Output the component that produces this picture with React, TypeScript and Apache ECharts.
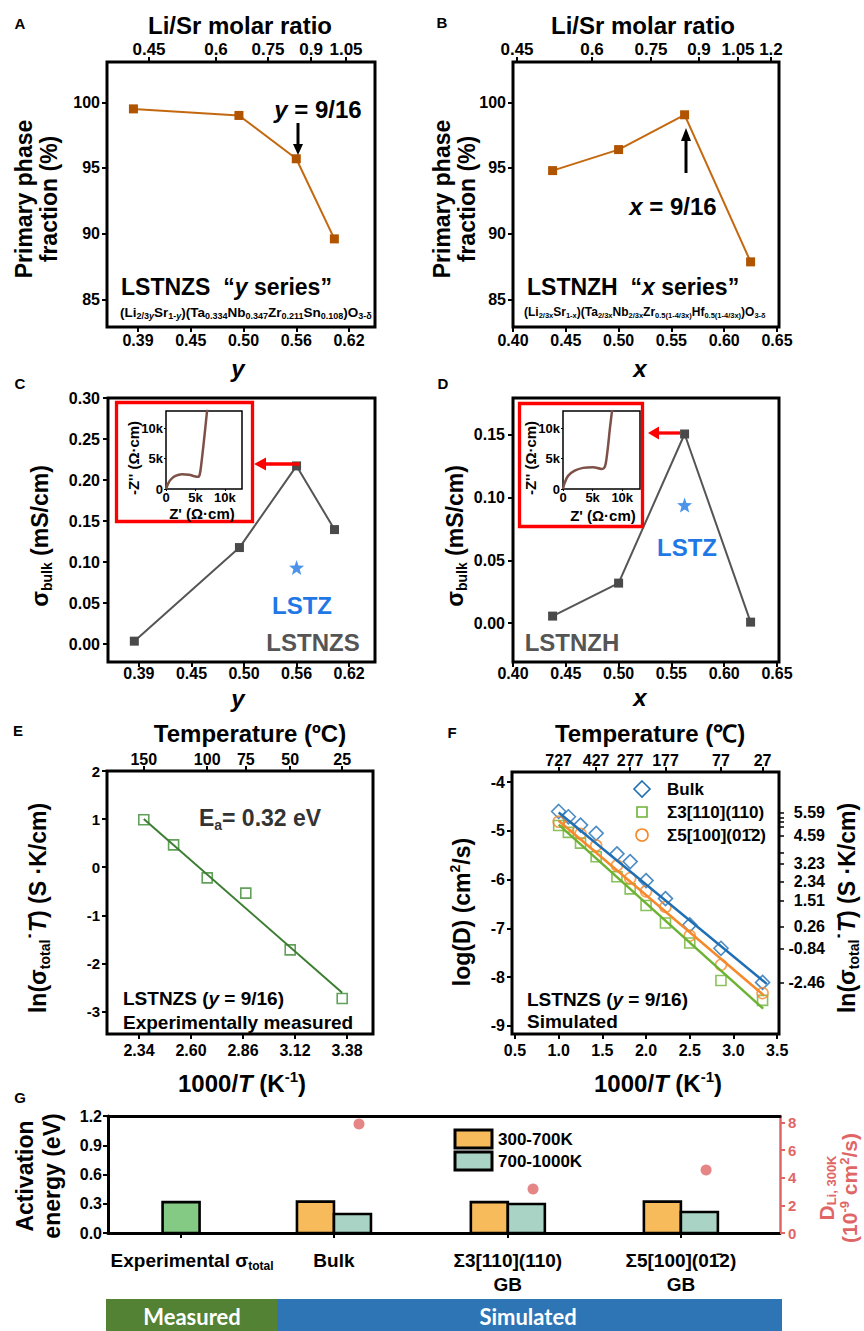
import React, { useEffect, useRef } from "react";
import * as echarts from "echarts";

const FONT = 'Arial, "Liberation Sans", Helvetica, sans-serif';

// ---------- Panel A : LSTNZS "y series" ----------
const aY = [0.385, 0.5, 0.5625, 0.604];
const aPhase = [99.5, 99.0, 95.7, 89.6];
const yAxisPos = [0.39, 0.4475, 0.505, 0.5625, 0.62];
const yAxisLabels = ["0.39", "0.45", "0.50", "0.56", "0.62"];
const aRatioPos = [0.402, 0.475, 0.5317, 0.5786, 0.6167];
const aRatioLabels = ["0.45", "0.6", "0.75", "0.9", "1.05"];
const phaseTicks = [85, 90, 95, 100];

// ---------- Panel B : LSTNZH "x series" ----------
const bX = [0.4375, 0.5, 0.5625, 0.625];
const bPhase = [94.8, 96.4, 99.05, 87.85];
const xSeriesTicks = [0.4, 0.45, 0.5, 0.55, 0.6, 0.65];
const bRatioPos = [0.4038, 0.4748, 0.5307, 0.5761, 0.6131, 0.6443];
const bRatioLabels = ["0.45", "0.6", "0.75", "0.9", "1.05", "1.2"];

// ---------- Panel C / D : bulk conductivity ----------
const cSigma = [0.0036, 0.1177, 0.2172, 0.1396];
const cLSTZ = [[0.5625, 0.0934]];
const cTicks = [0, 0.05, 0.1, 0.15, 0.2, 0.25, 0.3];
const dSigma = [0.0056, 0.0319, 0.1508, 0.0008];
const dLSTZ = [[0.5625, 0.0941]];
const dTicks = [0, 0.05, 0.1, 0.15];

// Nyquist insets: [Z', -Z''] in Ω·cm
const insetC = [[0, 0], [340, 850], [850, 1600], [1600, 2160], [2700, 2440], [3900, 2330], [5000, 2050], [5450, 2000], [5740, 2440], [6000, 4150], [6400, 7560], [7000, 13100]];
const insetD = [[0, 0], [280, 1000], [850, 2160], [1980, 3000], [3400, 3470], [5100, 3580], [6500, 3300], [6900, 3400], [7200, 4100], [7600, 7000], [7900, 9800], [8300, 13000]];
const insetTicks = [0, 5000, 10000];

// ---------- Panel E : measured Arrhenius ----------
const eInvT = [2.364, 2.513, 2.681, 2.874, 3.096, 3.356];
const eLnSigmaT = [0.985, 0.465, -0.223, -0.54, -1.72, -2.73];
const eFit = [[2.364, 1.0], [3.356, -2.61]];
const eXTicks = [2.34, 2.6, 2.86, 3.12, 3.38];
const eYTicks = [-3, -2, -1, 0, 1, 2];
const eTempPos = [2.364, 2.681, 2.874, 3.096, 3.356];
const eTempLabels = ["150", "100", "75", "50", "25"];

// ---------- Panel F : simulated diffusivity ----------
const fInvT = [1.0, 1.111, 1.25, 1.429, 1.667, 1.818, 2.0, 2.222, 2.5, 2.857, 3.333];
const fBulk = [-4.6, -4.71, -4.88, -5.05, -5.47, -5.63, -6.02, -6.39, -6.93, -7.41, -8.11];
const fS3 = [-4.89, -5.03, -5.25, -5.53, -5.94, -6.19, -6.53, -6.89, -7.3, -8.07, -8.48];
const fS5 = [-4.81, -4.91, -5.06, -5.3, -5.71, -5.97, -6.24, -6.56, -7.15, -7.75, -8.33];
const fFitBulk = [[1.0, -4.62], [3.38, -8.14]];
const fFitS3 = [[1.0, -4.87], [3.34, -8.65]];
const fFitS5 = [[1.0, -4.79], [3.35, -8.38]];
const fXTicks = [0.5, 1.0, 1.5, 2.0, 2.5, 3.0, 3.5];
const fYTicks = [-9, -8, -7, -6, -5, -4];
const fTempPos = [1.0, 1.429, 1.818, 2.222, 2.857, 3.333];
const fTempLabels = ["727", "427", "277", "177", "77", "27"];
const fRightPos = [-4.63, -5.1, -5.67, -6.04, -6.43, -6.97, -7.42, -8.12];
const fRightLabels = ["5.59", "4.59", "3.23", "2.34", "1.51", "0.26", "-0.84", "-2.46"];
const fRightExtraTicks = [-4.72, -4.82, -4.92, -5.45];
const fNames = ["Bulk", "Σ3[110](110)", "Σ5[100](01̄2)"];

// ---------- Panel G : activation energies ----------
const gCatPos = [0.435, 1.345, 2.38, 3.41];
const gCatLabels = ["{sp| }Experimental σ{sub|total}", "Bulk", "Σ3[110](110)\nGB", "Σ5[100](01̄2)\nGB"];
const gMeasured = [[0.435, 0.317]];
const gLowT = [[1.345, 0.322], [2.38, 0.317], [3.41, 0.322]];
const gHighT = [[1.345, 0.195], [2.38, 0.297], [3.41, 0.215]];
const gDiffPos = [1.494, 2.53, 3.56];
const gDiff = [7.9, 3.19, 4.57];
const gLeftTicks = [0, 0.3, 0.6, 0.9, 1.2];
const gRightTicks = [0, 2, 4, 6, 8];

// ---------- helpers ----------
const nearest = (pos: number[], labels: string[]) => (v: number) => {
  let bi = 0;
  let bd = Infinity;
  pos.forEach((p, i) => {
    const d = Math.abs(p - v);
    if (d < bd) { bd = d; bi = i; }
  });
  return labels[bi];
};
const fixed = (n: number) => (v: number) => Number(v).toFixed(n);
const pairs = (xs: number[], ys: number[]) => xs.map((x, i) => [x, ys[i]]);

function axis(kind: string, gridIndex: number, min: number, max: number, ticks: number[], fmt: any, o: any = {}) {
  return {
    type: "value",
    gridIndex,
    min,
    max,
    position: o.position || (kind === "x" ? "bottom" : "left"),
    axisLine: { show: !!o.line, onZero: false, lineStyle: { color: o.color || "#000", width: o.lineWidth || 3 } },
    axisTick: {
      show: o.tick !== false,
      inside: false,
      length: o.tickLen ?? 5,
      customValues: o.tickValues || ticks,
      lineStyle: { color: o.color || "#000", width: o.tickWidth ?? 2 },
    },
    axisLabel: {
      show: o.label !== false,
      customValues: ticks,
      formatter: fmt,
      margin: o.margin ?? 6,
      fontSize: o.fs ?? 16,
      fontWeight: "bold",
      fontFamily: FONT,
      color: o.color || "#000",
      align: o.align,
      lineHeight: o.lh,
      rich: o.rich,
    },
    splitLine: { show: false },
  };
}

function richFor(fs: number, color: string, lh: number, sfsIn?: number) {
  const base = { fontFamily: FONT, fontWeight: "bold", fill: color, color };
  const sfs = sfsIn || Math.round(fs * 0.62);
  return {
    i: { ...base, fontSize: fs, fontStyle: "italic", lineHeight: lh },
    sub: { ...base, fontSize: sfs, lineHeight: Math.round(fs * 0.5), verticalAlign: "bottom" },
    sup: { ...base, fontSize: sfs, lineHeight: Math.round(fs * 0.5), verticalAlign: "top" },
    si: { ...base, fontSize: sfs, fontStyle: "italic", lineHeight: Math.round(fs * 0.5), verticalAlign: "bottom" },
  };
}

function T(x: number, y: number, text: string, o: any = {}) {
  const fs = o.fs || 16;
  const color = o.color || "#000";
  const lh = o.lh || Math.round(fs * 1.2);
  return {
    type: "text",
    x,
    y,
    rotation: o.rot ? (o.rot * Math.PI) / 180 : 0,
    z: 100,
    style: {
      text,
      fontFamily: o.family || FONT,
      fontWeight: o.weight || "bold",
      fontStyle: o.italic ? "italic" : "normal",
      fontSize: fs,
      fill: color,
      align: o.align || "center",
      verticalAlign: "middle",
      lineHeight: lh,
      rich: richFor(fs, color, lh, o.sfs),
    },
  };
}

const grid = (left: number, top: number, width: number, height: number, border = 3) => ({
  left,
  top,
  width,
  height,
  show: border > 0,
  borderWidth: border,
  borderColor: "#000",
  backgroundColor: "transparent",
  containLabel: false,
  outerBoundsMode: "none",
});

const BROWN_PT = "#b05400";
const BROWN_LN = "#c4680f";
const GREY = "#4a4a4a";
const STAR = "path://M12,0L15,8.5L24,9L17,14.5L19.5,23.5L12,18.5L4.5,23.5L7,14.5L0,9L9,8.5Z";
const BLUE = "#1f6fb5";
const GREEN_F = "#6cb233";
const ORANGE_F = "#f5892b";
const GREEN_E = "#3b8a2f";
const RED_G = "#e06666";

function buildOption() {
  const graphics: any[] = [];
  const push = (e: any) => graphics.push(e);

  // panel letters
  ([["A", 20, 23], ["B", 442, 22], ["C", 20, 383], ["D", 443, 383], ["E", 18, 730], ["F", 452, 732], ["G", 20, 1097]] as any[]).forEach(
    ([t, x, y]) => push(T(x, y, t, { fs: 15 }))
  );
  // titles
  push(T(240, 25, "Li/Sr molar ratio", { fs: 24 }));
  push(T(643, 25, "Li/Sr molar ratio", { fs: 24 }));
  push(T(250, 733, "Temperature (ºC)", { fs: 24 }));
  push(T(650, 733, "Temperature (℃)", { fs: 24 }));
  // x axis names
  push(T(238, 368, "y", { fs: 24, italic: true }));
  push(T(640, 368, "x", { fs: 24, italic: true }));
  push(T(238, 698, "y", { fs: 24, italic: true }));
  push(T(640, 697, "x", { fs: 24, italic: true }));
  push(T(242, 1083, "1000/{i|T} (K{sup|-1})", { fs: 24 }));
  push(T(658, 1083, "1000/{i|T} (K{sup|-1})", { fs: 24 }));
  // y axis names
  push(T(36, 199, "Primary phase\nfraction (%)", { fs: 23, rot: 90, lh: 25 }));
  push(T(454, 199, "Primary phase\nfraction (%)", { fs: 23, rot: 90, lh: 25 }));
  push(T(40, 536, "σ{sub|bulk} (mS/cm)", { fs: 23, rot: 90 }));
  push(T(455, 536, "σ{sub|bulk} (mS/cm)", { fs: 23, rot: 90 }));
  push(T(38, 908, "ln(σ{sub|total}˙{i|T}) (S ·K/cm)", { fs: 23, rot: 90 }));
  push(T(462, 912, "log(D) (cm{sup|2}/s)", { fs: 23, rot: 90 }));
  push(T(847, 908, "ln(σ{sub|total}˙{i|T}) (S ·K/cm)", { fs: 23, rot: 90 }));
  push(T(38, 1176, "Activation\nenergy (eV)", { fs: 23, rot: 90, lh: 27 }));
  push(T(838, 1188, "D{sub|Li, 300K}\n(10{sup|-9} cm{sup|2}/s)", { fs: 21, rot: 90, lh: 23, color: RED_G }));

  // panel A annotations
  push(T(318, 109, "{i|y} = 9/16", { fs: 24 }));
  push({ type: "line", z: 100, shape: { x1: 298, y1: 123, x2: 298, y2: 146 }, style: { stroke: "#000", lineWidth: 3 } });
  push({ type: "polygon", z: 100, shape: { points: [[293, 144], [303, 144], [298, 155]] }, style: { fill: "#000" } });
  push(T(121, 287, "LSTNZS  “{i|y} series”", { fs: 23, align: "left" }));
  push(T(120, 312, "(Li{sub|2/3}{si|y}Sr{sub|1-}{si|y})(Ta{sub|0.334}Nb{sub|0.347}Zr{sub|0.211}Sn{sub|0.108})O{sub|3-δ}", { fs: 13.5, sfs: 9, align: "left" }));

  // panel B annotations
  push(T(673, 206, "{i|x} = 9/16", { fs: 24 }));
  push({ type: "line", z: 100, shape: { x1: 686, y1: 139, x2: 686, y2: 173 }, style: { stroke: "#000", lineWidth: 3 } });
  push({ type: "polygon", z: 100, shape: { points: [[681, 141], [691, 141], [686, 128]] }, style: { fill: "#000" } });
  push(T(527, 287, "LSTNZH  “{i|x} series”", { fs: 23, align: "left" }));
  push(T(524, 312, "(Li{sub|2/3x}Sr{sub|1-x})(Ta{sub|2/3x}Nb{sub|2/3x}Zr{sub|0.5(1-4/3x)}Hf{sub|0.5(1-4/3x)})O{sub|3-δ}", { fs: 12, sfs: 7.5, align: "left" }));

  // panel C annotations
  push({ type: "rect", z: 100, shape: { x: 116.5, y: 402.5, width: 136, height: 119 }, style: { fill: "none", stroke: "#ff0000", lineWidth: 3.3 } });
  push({ type: "line", z: 100, shape: { x1: 264, y1: 464, x2: 300, y2: 464 }, style: { stroke: "#ff0000", lineWidth: 3.3 } });
  push({ type: "polygon", z: 100, shape: { points: [[254, 464], [266, 457.5], [266, 470.5]] }, style: { fill: "#ff0000" } });
  push(T(133, 458, "-Z'' (Ω·cm)", { fs: 15, rot: 90 }));
  push(T(202, 513, "Z' (Ω·cm)", { fs: 15 }));
  push(T(302, 605, "LSTZ", { fs: 24, color: "#1f78e6" }));
  push(T(313, 642, "LSTNZS", { fs: 24, color: "#555555" }));

  // panel D annotations
  push({ type: "rect", z: 100, shape: { x: 519.5, y: 403.5, width: 123, height: 123 }, style: { fill: "none", stroke: "#ff0000", lineWidth: 3.3 } });
  push({ type: "line", z: 100, shape: { x1: 657, y1: 433, x2: 680, y2: 433 }, style: { stroke: "#ff0000", lineWidth: 3.3 } });
  push({ type: "polygon", z: 100, shape: { points: [[648, 433], [659, 426.5], [659, 439.5]] }, style: { fill: "#ff0000" } });
  push(T(530, 458, "-Z'' (Ω·cm)", { fs: 15, rot: 90 }));
  push(T(603, 515, "Z' (Ω·cm)", { fs: 15 }));
  push(T(687, 547, "LSTZ", { fs: 24, color: "#1f78e6" }));
  push(T(572, 642, "LSTNZH", { fs: 24, color: "#555555" }));

  // panel E annotations
  push(T(260, 818, "E{sub|a}= 0.32 eV", { fs: 23, color: "#333333" }));
  push(T(123, 998, "LSTNZS ({i|y} = 9/16)", { fs: 19, align: "left" }));
  push(T(123, 1022, "Experimentally measured", { fs: 19, align: "left" }));

  // panel F annotations + legend
  push(T(527, 999, "LSTNZS ({i|y} = 9/16)", { fs: 19, align: "left" }));
  push(T(527, 1021, "Simulated", { fs: 19, align: "left" }));
  push({ type: "polygon", z: 100, shape: { points: [[642, 781], [650, 789], [642, 797], [634, 789]] }, style: { fill: "none", stroke: BLUE, lineWidth: 1.6 } });
  push({ type: "rect", z: 100, shape: { x: 637, y: 807, width: 10, height: 10 }, style: { fill: "none", stroke: GREEN_F, lineWidth: 1.6 } });
  push({ type: "circle", z: 100, shape: { cx: 642, cy: 835, r: 6 }, style: { fill: "none", stroke: ORANGE_F, lineWidth: 1.6 } });
  push(T(667, 789, fNames[0], { fs: 17, align: "left" }));
  push(T(667, 812, fNames[1], { fs: 17, align: "left" }));
  push(T(667, 835, fNames[2], { fs: 17, align: "left" }));

  // panel G legend
  push({ type: "rect", z: 100, shape: { x: 455, y: 1130, width: 37, height: 18 }, style: { fill: "#f8bb5c", stroke: "#000", lineWidth: 3 } });
  push({ type: "rect", z: 100, shape: { x: 455, y: 1152, width: 37, height: 18 }, style: { fill: "#a9d3c5", stroke: "#000", lineWidth: 3 } });
  push(T(498, 1139, "300-700K", { fs: 17, align: "left" }));
  push(T(498, 1161, "700-1000K", { fs: 17, align: "left" }));

  // bottom band
  push({ type: "rect", z: 100, shape: { x: 106, y: 1299, width: 171, height: 32 }, style: { fill: "#548235" } });
  push({ type: "rect", z: 100, shape: { x: 277, y: 1299, width: 505, height: 32 }, style: { fill: "#2e75b6" } });
  push(T(192, 1316, "Measured", { fs: 22, color: "#ffffff", family: "Lato, 'Open Sans', sans-serif" }));
  push(T(528, 1316, "Simulated", { fs: 22, color: "#ffffff", family: "Lato, 'Open Sans', sans-serif" }));

  const gBar = (name: string, data: number[][], side: number, color: string) => ({
    type: "custom",
    name,
    xAxisIndex: 10,
    yAxisIndex: 7,
    data,
    encode: { x: 0, y: 1 },
    z: 3,
    renderItem: (params: any, api: any) => {
      const p = api.coord([api.value(0), api.value(1)]);
      const b = api.coord([api.value(0), 0]);
      const w = 37;
      return {
        type: "rect",
        shape: { x: p[0] + side * w, y: p[1], width: w, height: b[1] - p[1] },
        style: { fill: color, stroke: "#000", lineWidth: 2.6 },
      };
    },
  });

  const hollow = (c: string) => ({ color: "rgba(255,255,255,0)", borderColor: c, borderWidth: 1.6 });

  return {
    animation: false,
    graphic: { elements: graphics },
    grid: [
      grid(107, 62, 268, 265),
      grid(513, 62, 266, 265),
      grid(108, 398, 267, 264),
      grid(513, 398, 266, 264),
      grid(107, 771, 266, 263),
      grid(512, 772, 267, 262),
      grid(108, 1116, 672, 117, 0),
      grid(166, 411, 76, 78, 1.5),
      grid(563, 411, 77, 78, 1.5),
    ],
    xAxis: [
      axis("x", 0, 0.3562, 0.6483, yAxisPos, nearest(yAxisPos, yAxisLabels), { margin: 5 }),
      axis("x", 0, 0.3562, 0.6483, aRatioPos, nearest(aRatioPos, aRatioLabels), { position: "top", margin: 4, fs: 17 }),
      axis("x", 1, 0.4, 0.6519, xSeriesTicks, fixed(2), { margin: 5 }),
      axis("x", 1, 0.4, 0.6519, bRatioPos, nearest(bRatioPos, bRatioLabels), { position: "top", margin: 4, fs: 17 }),
      axis("x", 2, 0.3562, 0.6483, yAxisPos, nearest(yAxisPos, yAxisLabels), { margin: 3 }),
      axis("x", 3, 0.4, 0.6519, xSeriesTicks, fixed(2), { margin: 3 }),
      axis("x", 4, 2.18, 3.51, eXTicks, fixed(2), { margin: 8 }),
      axis("x", 4, 2.18, 3.51, eTempPos, nearest(eTempPos, eTempLabels), { position: "top", margin: 4 }),
      axis("x", 5, 0.466, 3.521, fXTicks, fixed(1), { margin: 8 }),
      axis("x", 5, 0.466, 3.521, fTempPos, nearest(fTempPos, fTempLabels), { position: "top", margin: 4 }),
      axis("x", 6, 0, 4, gCatPos, nearest(gCatPos, gCatLabels), {
        line: true,
        margin: 15,
        fs: 19,
        lh: 24,
        rich: {
          sp: { width: 22, fontSize: 19 },
          sub: { fontSize: 12, fontWeight: "bold", fontFamily: FONT, color: "#000", lineHeight: 10, verticalAlign: "bottom" },
        },
      }),
      axis("x", 6, 0, 4, [], () => "", { position: "top", line: true, tick: false, label: false }),
      axis("x", 7, 0, 12900, insetTicks, (v: number) => (v === 0 ? "0" : v / 1000 + "k"), { margin: 2, fs: 13, tickLen: 2, tickWidth: 1 }),
      axis("x", 8, 0, 13000, insetTicks, (v: number) => (v === 0 ? "0" : v / 1000 + "k"), { margin: 2, fs: 13, tickLen: 2, tickWidth: 1 }),
    ],
    yAxis: [
      axis("y", 0, 82.89, 103.07, phaseTicks, fixed(0), { margin: 7 }),
      axis("y", 1, 82.89, 103.07, phaseTicks, fixed(0), { margin: 7 }),
      axis("y", 2, -0.0218, 0.3, cTicks, fixed(2), { margin: 8 }),
      axis("y", 3, -0.031, 0.1795, dTicks, fixed(2), { margin: 8 }),
      axis("y", 4, -3.468, 2, eYTicks, fixed(0), { margin: 7, fs: 15 }),
      axis("y", 5, -9.17, -3.79, fYTicks, fixed(0), { margin: 7 }),
      axis("y", 5, -9.17, -3.79, fRightPos, nearest(fRightPos, fRightLabels), {
        position: "right",
        align: "right",
        margin: 46,
        tickWidth: 1.5,
        tickValues: fRightPos.concat(fRightExtraTicks),
      }),
      axis("y", 6, 0, 1.2, gLeftTicks, fixed(1), { line: true, margin: 6 }),
      axis("y", 6, 0, 8.48, gRightTicks, fixed(0), { position: "right", line: true, lineWidth: 2.5, color: RED_G, margin: 8, fs: 15 }),
      axis("y", 7, 0, 12800, insetTicks, (v: number) => (v === 0 ? "0" : v / 1000 + "k"), { margin: 3, fs: 13, tickLen: 2, tickWidth: 1 }),
      axis("y", 8, 0, 12800, insetTicks, (v: number) => (v === 0 ? "0" : v / 1000 + "k"), { margin: 3, fs: 13, tickLen: 2, tickWidth: 1 }),
    ],
    series: [
      // A
      {
        type: "line", xAxisIndex: 0, yAxisIndex: 0, data: pairs(aY, aPhase),
        symbol: "rect", symbolSize: 9, itemStyle: { color: BROWN_PT }, lineStyle: { color: BROWN_LN, width: 2 },
      },
      // B
      {
        type: "line", xAxisIndex: 2, yAxisIndex: 1, data: pairs(bX, bPhase),
        symbol: "rect", symbolSize: 9, itemStyle: { color: BROWN_PT }, lineStyle: { color: BROWN_LN, width: 2 },
      },
      // C
      {
        type: "line", xAxisIndex: 4, yAxisIndex: 2, data: pairs(aY, cSigma),
        symbol: "rect", symbolSize: 9, itemStyle: { color: GREY }, lineStyle: { color: "#555555", width: 2 },
      },
      { type: "scatter", xAxisIndex: 4, yAxisIndex: 2, data: cLSTZ, symbol: STAR, symbolSize: 15, itemStyle: { color: "#1f78e6" } },
      // D
      {
        type: "line", xAxisIndex: 5, yAxisIndex: 3, data: pairs(bX, dSigma),
        symbol: "rect", symbolSize: 9, itemStyle: { color: GREY }, lineStyle: { color: "#555555", width: 2 },
      },
      { type: "scatter", xAxisIndex: 5, yAxisIndex: 3, data: dLSTZ, symbol: STAR, symbolSize: 15, itemStyle: { color: "#1f78e6" } },
      // insets
      {
        type: "line", xAxisIndex: 12, yAxisIndex: 9, data: insetC, showSymbol: false, smooth: 0.3,
        lineStyle: { color: "#7d5048", width: 2.5 }, clip: true,
      },
      {
        type: "line", xAxisIndex: 13, yAxisIndex: 10, data: insetD, showSymbol: false, smooth: 0.3,
        lineStyle: { color: "#7d5048", width: 2.5 }, clip: true,
      },
      // E
      {
        type: "line", xAxisIndex: 6, yAxisIndex: 4, data: eFit, showSymbol: false,
        lineStyle: { color: "#3c7d32", width: 2 },
      },
      { type: "scatter", xAxisIndex: 6, yAxisIndex: 4, data: pairs(eInvT, eLnSigmaT), symbol: "rect", symbolSize: 10, itemStyle: hollow(GREEN_E) },
      // F
      { type: "scatter", name: fNames[0], xAxisIndex: 8, yAxisIndex: 5, data: pairs(fInvT, fBulk), symbol: "diamond", symbolSize: 14, itemStyle: hollow(BLUE) },
      { type: "scatter", name: fNames[1], xAxisIndex: 8, yAxisIndex: 5, data: pairs(fInvT, fS3), symbol: "rect", symbolSize: 10, itemStyle: hollow(GREEN_F) },
      { type: "scatter", name: fNames[2], xAxisIndex: 8, yAxisIndex: 5, data: pairs(fInvT, fS5), symbol: "circle", symbolSize: 11, itemStyle: hollow(ORANGE_F) },
      { type: "line", xAxisIndex: 8, yAxisIndex: 5, data: fFitBulk, showSymbol: false, lineStyle: { color: BLUE, width: 2.5 } },
      { type: "line", xAxisIndex: 8, yAxisIndex: 5, data: fFitS3, showSymbol: false, lineStyle: { color: GREEN_F, width: 2.5 } },
      { type: "line", xAxisIndex: 8, yAxisIndex: 5, data: fFitS5, showSymbol: false, lineStyle: { color: ORANGE_F, width: 2.5 } },
      // G
      gBar("Experimental", gMeasured, -0.5, "#84c984"),
      gBar("300-700K", gLowT, -1, "#f8bb5c"),
      gBar("700-1000K", gHighT, 0, "#a9d3c5"),
      {
        type: "scatter", xAxisIndex: 10, yAxisIndex: 8, data: pairs(gDiffPos, gDiff),
        symbolSize: 11, itemStyle: { color: RED_G },
      },
    ],
  };
}

export default function App() {
  const ref = useRef<HTMLDivElement>(null);
  useEffect(() => {
    document.body.style.margin = "0";
    if (!ref.current) return;
    const chart = echarts.init(ref.current, null, { renderer: "svg" });
    chart.setOption(buildOption() as any);
    return () => chart.dispose();
  }, []);
  return <div ref={ref} style={{ width: 864, height: 1331, background: "#fff" }} />;
}
